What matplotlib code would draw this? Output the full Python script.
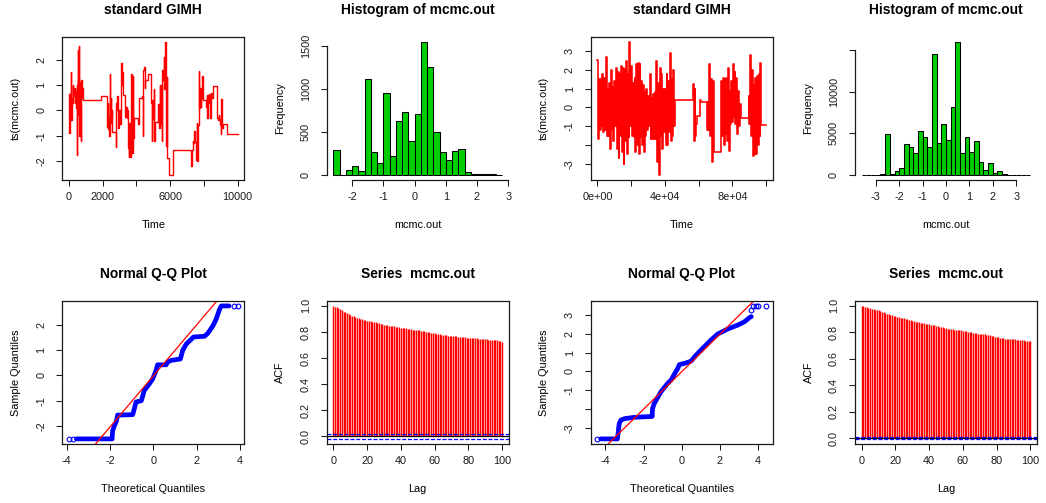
import numpy as np
import matplotlib
matplotlib.use("Agg")
import matplotlib.pyplot as plt

plt.rcParams['font.family'] = ['Liberation Sans', 'DejaVu Sans']

# ---------------------------------------------------------------- data
# chain 1 (10 000 iterations): change points and values
trace1_t = [0, 10, 40, 60, 100, 120, 160, 200, 220, 260, 300, 330, 370, 410, 450,
            470, 490, 510, 530, 550, 570, 590, 610, 630, 650, 690, 710, 730, 750,
            790, 810, 1870, 2270, 2300, 2320, 2350, 2380, 2410, 2440, 2470, 2500,
            2530, 2560, 2760, 2790, 2830, 2870, 2910, 2950, 2990, 3020, 3050, 3090,
            3120, 3160, 3200, 3340, 3380, 3420, 3460, 3500, 3540, 3580, 3620, 3660,
            3700, 3740, 3780, 3820, 3860, 4090, 4130, 4330, 4370, 4410, 4450, 4490,
            4530, 4690, 4860, 4900, 4940, 4980, 5020, 5060, 5100, 5260, 5300, 5340,
            5380, 5420, 5450, 5490, 5530, 5570, 5610, 5650, 5690, 5730, 5750, 5790,
            5830, 5910, 6160, 7260, 7300, 7340, 7380, 7440, 7480, 7540, 7580, 7620,
            7660, 7700, 7740, 7780, 7820, 7860, 7900, 7930, 8130, 8170, 8210, 8250,
            8290, 8330, 8370, 8410, 8450, 8480, 8560, 8800, 8840, 8880, 8920, 8960,
            9000, 9040, 9080, 9110, 9350, 10000]
trace1_v = [0.65, -0.9, 0.65, -0.4, 1.5, -0.4, 0.5, 0.3, 1.0, 0.55, 0.9, 0.3, 0.75, 0.1, -1.75,
            1.0, 0.4, 2.4, -0.2, 1.2, 2.55, 0.3, -1.0, 1.1, 0.2, 0.6, -1.2, 1.2, 0.5,
            0.9, 0.4, 0.55, -0.65, 0.3, -0.75, -0.3, -1.0, 1.45, -0.5, 0.5, -0.3,
            0.0, -0.85, -1.45, 0.3, 0.0, 0.55, -0.7, 0.0, -0.3, 0.0, -0.55, 1.85,
            1.0, 1.5, 0.6, -0.25, 0.15, -0.3, 0.0, -1.5, -1.85, -0.5, -1.85, -1.0,
            1.45, -1.7, 1.35, -1.1, -0.3, -0.55, 0.5, 0.55, -1.0, 1.6, 1.7, 0.9,
            1.2, 1.45, 0.3, -1.2, 0.4, -0.35, 0.85, -1.2, -0.45, -0.3, 0.25, -0.7,
            1.0, -0.55, 1.0, -1.2, 1.6, 1.2, 2.1, 0.85, 2.7, 1.8, -1.4, 1.3,
            -1.9, -2.55, -1.55, -2.2, -1.55, -1.2, -1.3, -0.8, -1.25, -1.95, -0.5, -2.0,
            -0.6, 1.55, 0.1, 0.9, 0.15, 0.5, 1.35, 0.4, 0.15, 0.6, -0.3, 0.6,
            0.3, 0.65, -0.3, 0.45, 0.7, 0.5, 0.95, -0.3, -0.4, -0.2, -0.35, -0.6,
            -0.95, 0.45, -0.7, -0.55, -0.95, -0.95]

# chain 2 (100 000 iterations): change points in thousands of iterations
trace2_tk = [0, 0.5, 1, 1.5, 2, 2.5, 3, 3.5, 4, 4.5, 5, 5.5, 6, 6.5, 7, 7.5, 8, 8.5,
             9, 9.5, 10, 10.5, 11, 11.5, 12, 12.5, 13, 13.5, 14, 14.5, 15, 15.5, 16,
             16.5, 17, 17.5, 18, 18.5, 19, 19.5, 20, 20.5, 21, 21.5, 22, 22.5, 23,
             23.5, 24, 24.5, 25, 25.5, 26, 26.5, 27, 27.5, 28, 28.5, 29, 29.5, 30,
             30.5, 31, 31.5, 32, 32.5, 33, 33.5, 34, 34.5, 35, 35.5, 36, 36.5, 37,
             37.5, 38, 38.5, 39, 39.5, 40, 40.5, 41, 41.5, 42, 42.5, 43, 43.5, 44,
             44.5, 45, 45.5, 46, 56.6, 57.1, 57.6, 58.1, 58.6, 59.0, 60.7, 61.5,
             64.9, 65.4, 65.9, 66.4, 66.9, 67.4, 67.9, 68.4, 68.9, 73.4, 73.9, 74.4,
             74.9, 75.4, 75.9, 76.4, 76.9, 77.4, 77.9, 78.4, 78.9, 79.4, 79.9, 80.4,
             80.9, 81.4, 81.9, 82.4, 82.9, 83.4, 83.9, 84.4, 84.9, 89.7, 90.2, 90.7,
             91.2, 91.7, 92.2, 92.7, 93.2, 93.7, 94.2, 94.7, 95.2, 95.7, 96.2, 96.7,
             97.0, 100.0]
trace2_v = [2.55, -1.7, 1.5, -1.2, 1.5, -1.0, 1.8, -1.3, 1.6, -1.2, 2.7, -1.5, 1.0, -1.5,
            1.3, -2.2, 2.0, -1.2, 1.1, -1.8, 1.4, -1.0, 2.1, -2.2, 1.9, -2.7, 1.8, -1.5,
            2.2, -2.4, 2.1, -3.0, 2.0, -1.8, 2.5, -2.5, 1.8, -1.6, 3.5, -1.0, 2.2, -1.5,
            1.3, -1.6, 1.6, -2.4, 2.3, -2.0, 2.4, -2.5, 2.3, -1.6, 1.4, -2.0, 1.2, -2.4,
            0.8, -1.5, 1.0, -1.2, 0.6, -1.0, 1.8, -1.7, 0.5, -1.7, 0.7, -1.7, 0.8, -1.7,
            2.5, -2.9, 1.3, -3.6, 2.1, -1.5, 1.8, -2.2, 1.0, -1.3, 1.0, -2.0, 1.8, -2.0,
            1.4, -1.3, 2.9, -1.8, 1.5, -1.5, 2.0, -1.0, 0.41, 1.25, -1.8, 1.0, -1.5,
            -0.9, -0.45, 0.4, 0.3, -1.2, 0.3, -1.2, 2.3, -1.5, 1.5, -2.9, 1.4, -2.4,
            1.4, -1.5, 1.6, -2.0, 1.5, -1.4, 1.6, -1.8, 2.1, -2.3, 0.9, -0.9, 1.4,
            -0.8, 2.3, -0.5, 1.9, -0.9, 1.6, -1.4, 0.9, -1.0, 0.2, -0.55, 0.6, -0.9,
            2.8, -1.5, 2.0, -2.6, 1.2, -2.5, 1.6, -2.5, 1.7, -2.0, 1.8, -1.5, 2.4,
            -0.95, -0.95]

# histograms
hist1_breaks = [-2.6, -2.4, -2.2, -2.0, -1.8, -1.6, -1.4, -1.2, -1.0, -0.8, -0.6, -0.4,
                -0.2, 0.0, 0.2, 0.4, 0.6, 0.8, 1.0, 1.2, 1.4, 1.6, 1.8, 2.0, 2.2, 2.4,
                2.6, 2.8]
hist1_counts = [289, 0, 62, 100, 50, 1107, 266, 135, 956, 216, 625, 725, 393, 702,
                1543, 1257, 497, 266, 174, 278, 305, 39, 12, 8, 6, 5, 4]
hist2_breaks = [-3.6, -3.4, -3.2, -3.0, -2.8, -2.6, -2.4, -2.2, -2.0, -1.8, -1.6, -1.4,
                -1.2, -1.0, -0.8, -0.6, -0.4, -0.2, 0.0, 0.2, 0.4, 0.6, 0.8, 1.0, 1.2,
                1.4, 1.6, 1.8, 2.0, 2.2, 2.4, 2.6, 2.8, 3.0, 3.2, 3.4, 3.6]
hist2_counts = [30, 0, 0, 0, 100, 4900, 100, 500, 800, 3700, 3300, 2600, 5300, 4500,
                3300, 14500, 3800, 6100, 4200, 8200, 16000, 2600, 4500, 2800, 4100,
                1500, 600, 1400, 200, 500, 100, 0, 0, 0, 0, 30]

# normal Q-Q curves (theoretical, sample) and isolated tail points
qq1_theo = [-3.55, -1.9, -1.88, -1.8, -1.7, -1.65, -0.95, -0.88, -0.8, -0.55, -0.42,
            -0.19, -0.03, 0.12, 0.2, 0.59, 0.67, 0.85, 1.25, 1.36, 1.52, 1.75, 1.85,
            2.37, 2.52, 2.75, 2.9, 2.98, 3.06, 3.14, 3.5]
qq1_samp = [-2.51, -2.51, -2.2, -2.0, -1.8, -1.57, -1.55, -1.33, -1.05, -1.0, -0.6,
            -0.34, -0.14, 0.18, 0.42, 0.42, 0.54, 0.6, 0.65, 1.0, 1.24, 1.43, 1.52,
            1.55, 1.67, 1.96, 2.22, 2.42, 2.62, 2.75, 2.75]
qq1_tail_theo = [-3.89, -3.72, 3.72, 3.89]
qq1_tail_samp = [-2.51, -2.51, 2.75, 2.75]
qq1_line = (-0.02, 1.01)  # intercept, slope

qq2_theo = [-4.25, -3.37, -3.33, -3.28, -3.19, -3.0, -2.5, -1.55, -1.53, -1.44, -1.09,
            -0.74, -0.56, -0.21, -0.12, 0.14, 0.49, 0.75, 1.1, 1.54, 1.89, 2.42, 2.95,
            3.3, 3.56, 3.65]
qq2_samp = [-3.6, -3.6, -3.23, -2.79, -2.6, -2.52, -2.45, -2.4, -1.98, -1.71, -1.09,
            -0.64, -0.46, 0.16, 0.37, 0.43, 0.55, 0.87, 1.23, 1.68, 2.0, 2.27, 2.48,
            2.66, 2.88, 2.93]
qq2_tail_theo = [-4.42, 3.62, 3.75, 3.88, 4.02, 4.42]
qq2_tail_samp = [-3.6, 3.3, 3.5, 3.5, 3.5, 3.5]
qq2_line = (-0.015, 1.0)

# autocorrelations, lags 0..100
acf1 = [1.000, 0.993, 0.988, 0.982, 0.975, 0.966, 0.957, 0.950, 0.944, 0.937,
        0.930, 0.926, 0.921, 0.916, 0.911, 0.907, 0.903, 0.899, 0.895, 0.891,
        0.888, 0.885, 0.883, 0.880, 0.877, 0.874, 0.870, 0.866, 0.862, 0.860,
        0.857, 0.854, 0.852, 0.849, 0.847, 0.846, 0.844, 0.841, 0.839, 0.836,
        0.834, 0.832, 0.830, 0.828, 0.826, 0.823, 0.820, 0.818, 0.816, 0.814,
        0.813, 0.812, 0.811, 0.808, 0.806, 0.803, 0.801, 0.798, 0.795, 0.793,
        0.790, 0.788, 0.785, 0.783, 0.780, 0.778, 0.776, 0.774, 0.772, 0.771,
        0.769, 0.768, 0.767, 0.766, 0.764, 0.763, 0.762, 0.760, 0.758, 0.756,
        0.754, 0.754, 0.753, 0.753, 0.752, 0.751, 0.749, 0.748, 0.747, 0.746,
        0.745, 0.743, 0.742, 0.741, 0.740, 0.738, 0.737, 0.735, 0.733, 0.730,
        0.727]
acf2 = [1.000, 0.997, 0.993, 0.989, 0.985, 0.981, 0.978, 0.975, 0.972, 0.969,
        0.966, 0.962, 0.957, 0.952, 0.947, 0.942, 0.938, 0.934, 0.930, 0.926,
        0.922, 0.918, 0.915, 0.911, 0.908, 0.905, 0.902, 0.898, 0.894, 0.890,
        0.886, 0.883, 0.881, 0.878, 0.875, 0.872, 0.870, 0.867, 0.865, 0.863,
        0.861, 0.858, 0.856, 0.852, 0.849, 0.846, 0.843, 0.840, 0.838, 0.835,
        0.833, 0.829, 0.826, 0.824, 0.822, 0.820, 0.818, 0.816, 0.815, 0.814,
        0.813, 0.810, 0.807, 0.804, 0.801, 0.799, 0.797, 0.795, 0.793, 0.791,
        0.790, 0.788, 0.786, 0.784, 0.782, 0.780, 0.777, 0.774, 0.771, 0.768,
        0.765, 0.762, 0.760, 0.757, 0.755, 0.753, 0.751, 0.749, 0.748, 0.747,
        0.747, 0.746, 0.745, 0.743, 0.742, 0.740, 0.739, 0.738, 0.737, 0.735,
        0.732]
acf1_ci = 0.0196
acf2_ci = 0.0062

# ---------------------------------------------------------------- layout
W, H = 1046, 503
fig = plt.figure(figsize=(W / 100, H / 100), dpi=100)
fig.patch.set_facecolor('white')

COL_LEFT = [62.3, 326.7, 590.7, 855.0]
ROW_TOP = [36.6, 300.6]
AX_W, AX_H = 182.0, 143.6

RED = '#FF0000'
BLUE = '#0000FF'
GREEN = '#00CD00'
INK = '#1a1a1a'
FS = 7.8


def make_ax(col, row):
    l, t = COL_LEFT[col], ROW_TOP[row]
    return fig.add_axes([l / W, 1 - (t + AX_H) / H, AX_W / W, AX_H / H])


def padded(lo, hi):
    d = (hi - lo) * 0.04
    return lo - d, hi + d


def style(ax, title, xlabel, ylabel, xticks, xlabels, yticks, ylabels, box=True):
    ax.set_title(title, fontsize=9.9, fontweight='bold', pad=16.2)
    ax.set_xticks(xticks, xlabels)
    ax.set_yticks(yticks, ylabels)
    ax.tick_params(direction='out', length=4.1, width=0.75, colors=INK,
                   labelsize=FS)
    ax.tick_params(axis='x', pad=4.4)
    ax.tick_params(axis='y', pad=7.4)
    for lbl in ax.get_yticklabels():
        lbl.set_rotation(90)
        lbl.set_va('center')
        lbl.set_ha('right')
    for s in ax.spines.values():
        s.set_color(INK)
        s.set_linewidth(0.9)
    if not box:
        ax.spines['top'].set_visible(False)
        ax.spines['right'].set_visible(False)
        ax.spines['left'].set_bounds(yticks[0], yticks[-1])
        ax.spines['bottom'].set_bounds(xticks[0], xticks[-1])
    ax.annotate(xlabel, xy=(0.5, 0), xycoords='axes fraction',
                xytext=(0, -34.4), textcoords='offset points',
                ha='center', va='baseline', fontsize=FS)
    ax.annotate(ylabel, xy=(0, 0.5), xycoords='axes fraction',
                xytext=(-31.3, 0), textcoords='offset points',
                ha='center', va='baseline', rotation=90,
                rotation_mode='anchor', fontsize=FS)


def trace_panel(col, t, v, xticks, xlabels, yticks, ylabels, lw):
    ax = make_ax(col, 0)
    ax.plot(t, v, drawstyle='steps-post', color=RED, lw=lw)
    ax.set_xlim(*padded(t[0], t[-1]))
    ax.set_ylim(*padded(min(v), max(v)))
    style(ax, 'standard GIMH', 'Time', 'ts(mcmc.out)',
          xticks, xlabels, yticks, ylabels)


def hist_panel(col, breaks, counts, xticks, yticks, ylabels):
    ax = make_ax(col, 0)
    ax.bar(breaks[:-1], counts, width=np.diff(breaks), align='edge',
           color=GREEN, edgecolor='black', linewidth=0.75)
    ax.set_xlim(*padded(breaks[0], breaks[-1]))
    ax.set_ylim(*padded(0, max(counts)))
    style(ax, 'Histogram of mcmc.out', 'mcmc.out', 'Frequency',
          xticks, [f'{x:g}' for x in xticks], yticks, ylabels, box=False)


def qq_panel(col, theo, samp, tt, ts_, line, xlim_pts, ylim_pts,
             xticks, yticks, ylabels):
    ax = make_ax(col, 1)
    ax.plot(theo, samp, color=BLUE, lw=3.4, solid_capstyle='round',
            solid_joinstyle='round')
    ax.plot(tt, ts_, ls='none', marker='o', ms=3.4, mfc='none', mec=BLUE,
            mew=0.8)
    ax.axline((0, line[0]), slope=line[1], color=RED, lw=0.9)
    ax.set_xlim(*padded(-xlim_pts, xlim_pts))
    ax.set_ylim(*padded(*ylim_pts))
    style(ax, 'Normal Q-Q Plot', 'Theoretical Quantiles', 'Sample Quantiles',
          xticks, [f'{x:g}' for x in xticks], yticks, ylabels)


def acf_panel(col, acf, ci):
    ax = make_ax(col, 1)
    lags = np.arange(len(acf))
    ax.vlines(lags, 0, acf, color=RED, lw=1.05)
    ax.axhline(0, color='black', lw=0.9)
    for c in (ci, -ci):
        ax.axhline(c, color=BLUE, lw=0.9, dashes=(3.2, 1.4))
    ax.set_xlim(*padded(0, len(acf) - 1))
    ax.set_ylim(*padded(-ci, 1.0))
    yt = [0.0, 0.2, 0.4, 0.6, 0.8, 1.0]
    style(ax, 'Series  mcmc.out', 'Lag', 'ACF',
          [0, 20, 40, 60, 80, 100], ['0', '20', '40', '60', '80', '100'],
          yt, [f'{y:.1f}' for y in yt])


# top row
trace_panel(0, trace1_t, trace1_v,
            [0, 2000, 4000, 6000, 8000, 10000],
            ['0', '2000', '', '6000', '', '10000'],
            [-2, -1, 0, 1, 2], ['-2', '-1', '0', '1', '2'], 1.0)
hist_panel(1, hist1_breaks, hist1_counts, [-2, -1, 0, 1, 2, 3],
           [0, 500, 1000, 1500], ['0', '500', '1000', '1500'])
trace_panel(2, [t * 1000 for t in trace2_tk], trace2_v,
            [0, 20000, 40000, 60000, 80000, 100000],
            ['0e+00', '', '4e+04', '', '8e+04', ''],
            [-3, -2, -1, 0, 1, 2, 3], ['-3', '', '-1', '0', '1', '2', '3'], 1.15)
hist_panel(3, hist2_breaks, hist2_counts, [-3, -2, -1, 0, 1, 2, 3],
           [0, 5000, 10000, 15000], ['0', '5000', '10000', ''])

# bottom row
qq_panel(0, qq1_theo, qq1_samp, qq1_tail_theo, qq1_tail_samp, qq1_line,
         3.89, (min(qq1_samp), max(qq1_samp)),
         [-4, -2, 0, 2, 4], [-2, -1, 0, 1, 2], ['-2', '-1', '0', '1', '2'])
acf_panel(1, acf1, acf1_ci)
qq_panel(2, qq2_theo, qq2_samp, qq2_tail_theo, qq2_tail_samp, qq2_line,
         4.42, (min(qq2_samp), max(qq2_tail_samp)),
         [-4, -2, 0, 2, 4], [-3, -2, -1, 0, 1, 2, 3],
         ['-3', '', '-1', '0', '1', '2', '3'])
acf_panel(3, acf2, acf2_ci)

fig.savefig('out.png', dpi=100, facecolor='white')
